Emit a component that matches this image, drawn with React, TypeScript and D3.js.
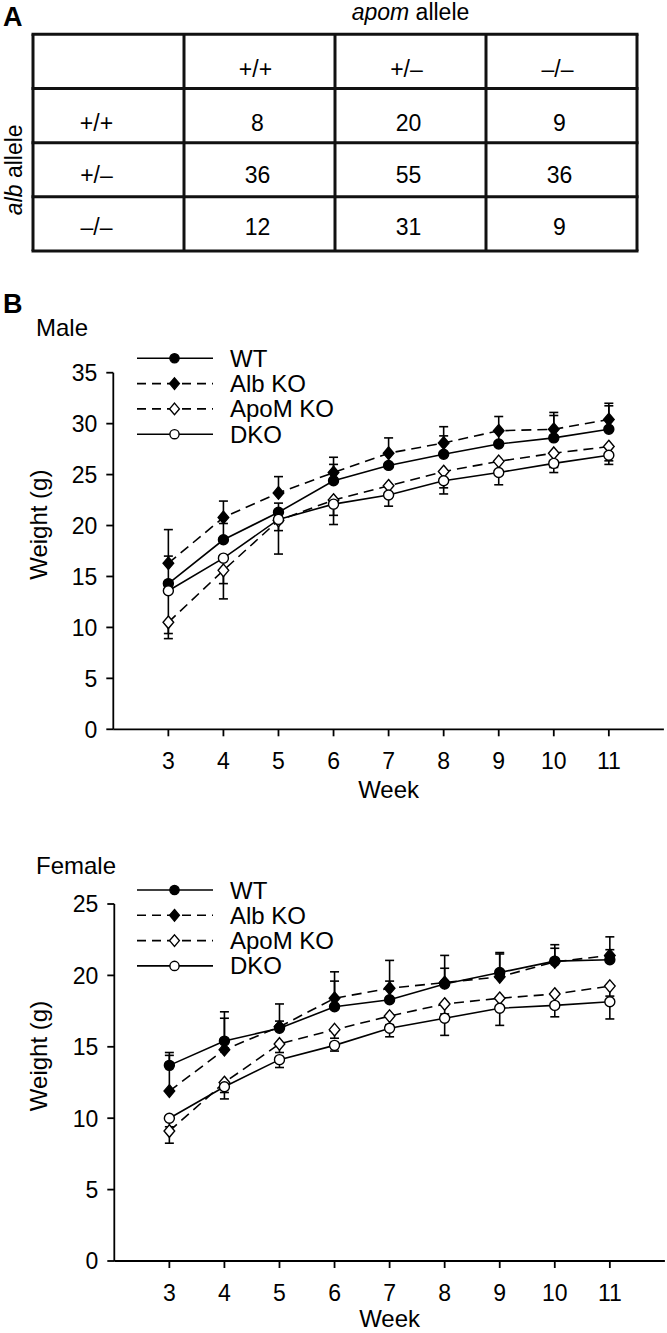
import React from "react";
import * as d3 from "d3";

// ---------- DATA ----------
const apomGenotypes = ["+/+", "+/\u2013", "\u2013/\u2013"];
const albGenotypes = ["+/+", "+/\u2013", "\u2013/\u2013"];
const genotypeCounts = [
  [8, 20, 9],
  [36, 55, 36],
  [12, 31, 9],
];

const weeks = [3, 4, 5, 6, 7, 8, 9, 10, 11];
const seriesNames = ["WT", "Alb KO", "ApoM KO", "DKO"];

const maleWT = [14.3, 18.6, 21.3, 24.4, 25.9, 27.0, 28.0, 28.6, 29.45];
const maleAlbKO = [16.3, 20.8, 23.2, 25.2, 27.1, 28.1, 29.3, 29.45, 30.4];
const maleApoMKO = [10.5, 15.6, 20.5, 22.5, 23.9, 25.3, 26.3, 27.1, 27.75];
const maleDKO = [13.6, 16.8, 20.6, 22.1, 23.0, 24.4, 25.2, 26.1, 26.9];
const maleWTsd = [2.7, 1.6, 0.9, 1.6, 1.2, 1.8, 1.2, 2.2, 2.3];
const maleAlbKOsd = [3.3, 1.6, 1.6, 1.5, 1.5, 1.6, 1.4, 1.65, 1.6];
const maleApoMKOsd = [1.1, 1.3, 1.0, 1.5, 0.9, 1.6, 1.0, 1.4, 1.4];
const maleDKOsd = [4.7, 4.0, 3.4, 2.0, 1.1, 1.3, 1.2, 0.9, 0.9];

const femaleWT = [13.7, 15.4, 16.3, 17.8, 18.3, 19.4, 20.2, 21.0, 21.1];
const femaleAlbKO = [11.9, 14.8, 16.4, 18.4, 19.1, 19.5, 19.9, 20.95, 21.4];
const femaleApoMKO = [9.1, 12.5, 15.2, 16.2, 17.15, 18.0, 18.4, 18.7, 19.25];
const femaleDKO = [10.0, 12.2, 14.1, 15.1, 16.3, 17.0, 17.7, 17.9, 18.15];
const femaleWTsd = [0.9, 2.05, 1.7, 1.8, 2.75, 2.0, 1.4, 0.9, 0.7];
const femaleAlbKOsd = [2.5, 2.2, 0.4, 1.85, 0.5, 1.0, 1.6, 1.2, 1.3];
const femaleApoMKOsd = [0.85, 0.7, 0.6, 0.6, 0.6, 0.7, 0.6, 0.7, 0.7];
const femaleDKOsd = [0.6, 0.85, 0.55, 0.4, 0.6, 1.2, 1.2, 0.8, 1.2];

const maleYTicks = [0, 5, 10, 15, 20, 25, 30, 35];
const femaleYTicks = [0, 5, 10, 15, 20, 25];

// ---------- STYLE ----------
const FONT = "'Liberation Sans', Arial, Helvetica, sans-serif";
const seriesStyle = [
  { marker: "circle", fill: "#000", dash: null, errDir: 1 },
  { marker: "diamond", fill: "#000", dash: "10,6", errDir: 1 },
  { marker: "diamond", fill: "#fff", dash: "10,6", errDir: -1 },
  { marker: "circle", fill: "#fff", dash: null, errDir: -1 },
];

function Marker({ type, x, y, fill, size }: any) {
  if (type === "circle") {
    return <circle cx={x} cy={y} r={size} fill={fill} stroke="#000" strokeWidth={1.4} />;
  }
  const s = size * 1.25;
  return (
    <path
      d={`M${x},${y - s}L${x + s * 0.85},${y}L${x},${y + s}L${x - s * 0.85},${y}Z`}
      fill={fill}
      stroke="#000"
      strokeWidth={1.4}
    />
  );
}

function Panel({ title, titleY, means, sds, yMax, yTicks, yTop, yBottom, xLeft, legendTop, weekY }: any) {
  const x = d3.scaleLinear().domain([2, 12]).range([xLeft, xLeft + 550.6]);
  const y = d3.scaleLinear().domain([0, yMax]).range([yBottom, yTop]);
  const line = d3
    .line<number>()
    .x((_, i) => x(weeks[i]))
    .y((d) => y(d));
  const legendY = d3.scaleLinear().domain([0, 1]).range([legendTop, legendTop + 25.3]);
  const labelMid = yTop + 152;
  return (
    <g>
      <text x={36} y={titleY} fontSize={24} fontFamily={FONT}>
        {title}
      </text>
      {/* axes */}
      <line x1={xLeft} x2={xLeft} y1={yTop} y2={yBottom} stroke="#000" strokeWidth={1.8} />
      <line x1={xLeft} x2={x(12)} y1={yBottom} y2={yBottom} stroke="#000" strokeWidth={1.8} />
      {yTicks.map((t: number) => (
        <g key={"y" + t}>
          <line x1={xLeft - 7} x2={xLeft} y1={y(t)} y2={y(t)} stroke="#000" strokeWidth={1.8} />
          <text x={xLeft - 16} y={y(t) + 8.3} fontSize={23} textAnchor="end" fontFamily={FONT}>
            {t}
          </text>
        </g>
      ))}
      {weeks.map((w) => (
        <g key={"x" + w}>
          <line x1={x(w)} x2={x(w)} y1={yBottom} y2={yBottom + 7} stroke="#000" strokeWidth={1.8} />
          <text x={x(w)} y={yBottom + 40} fontSize={23} textAnchor="middle" fontFamily={FONT}>
            {w}
          </text>
        </g>
      ))}
      <text x={(xLeft + x(12)) / 2} y={weekY} fontSize={24} textAnchor="middle" fontFamily={FONT}>
        Week
      </text>
      <text
        transform={`translate(47,${labelMid}) rotate(-90)`}
        fontSize={24}
        textAnchor="middle"
        fontFamily={FONT}
      >
        Weight (g)
      </text>
      {/* error bars */}
      {means.map((m: number[], si: number) =>
        m.map((v, i) => {
          const end = v + seriesStyle[si].errDir * sds[si][i];
          return (
            <g key={`e${si}-${i}`}>
              <line x1={x(weeks[i])} x2={x(weeks[i])} y1={y(v)} y2={y(end)} stroke="#000" strokeWidth={1.6} />
              <line x1={x(weeks[i]) - 4.5} x2={x(weeks[i]) + 4.5} y1={y(end)} y2={y(end)} stroke="#000" strokeWidth={1.6} />
            </g>
          );
        })
      )}
      {/* lines */}
      {means.map((m: number[], si: number) => (
        <path
          key={"l" + si}
          d={line(m) || ""}
          fill="none"
          stroke="#000"
          strokeWidth={1.6}
          strokeDasharray={seriesStyle[si].dash || undefined}
        />
      ))}
      {/* markers */}
      {means.map((m: number[], si: number) =>
        m.map((v, i) => (
          <Marker
            key={`m${si}-${i}`}
            type={seriesStyle[si].marker}
            x={x(weeks[i])}
            y={y(v)}
            fill={seriesStyle[si].fill}
            size={5}
          />
        ))
      )}
      {/* legend */}
      {seriesNames.map((name, si) => (
        <g key={"lg" + si}>
          <line
            x1={137}
            x2={213}
            y1={legendY(si)}
            y2={legendY(si)}
            stroke="#000"
            strokeWidth={1.6}
            strokeDasharray={seriesStyle[si].dash ? "9,6" : undefined}
          />
          <Marker type={seriesStyle[si].marker} x={174.5} y={legendY(si)} fill={seriesStyle[si].fill} size={4.6} />
          <text x={230} y={legendY(si) + 8.5} fontSize={24} fontFamily={FONT}>
            {name}
          </text>
        </g>
      ))}
    </g>
  );
}

function GenotypeTable() {
  const col = d3.scaleBand<number>().domain([0, 1, 2, 3]).range([33, 637]);
  const row = d3.scaleBand<number>().domain([0, 1, 2, 3]).range([34.3, 251]);
  const cw = col.bandwidth();
  const rh = row.bandwidth();
  const baseOff = [42.5, 43, 40, 38.5];
  return (
    <g fontFamily={FONT}>
      <text x={3} y={26} fontSize={27} fontWeight="bold" fontFamily={FONT}>
        A
      </text>
      <text x={(col(1)! + 637) / 2} y={20} fontSize={23} textAnchor="middle">
        <tspan fontStyle="italic">apom</tspan> allele
      </text>
      <text transform={`translate(21.5,${(row(1)! + 251) / 2}) rotate(-90)`} fontSize={23} textAnchor="middle">
        <tspan fontStyle="italic">alb</tspan> allele
      </text>
      {apomGenotypes.map((g, j) => (
        <text key={"h" + j} x={col(j + 1)! + cw / 2 - 4} y={row(0)! + baseOff[0]} fontSize={23} textAnchor="middle">
          {g}
        </text>
      ))}
      {albGenotypes.map((g, i) => (
        <text key={"r" + i} x={col(0)! + cw / 2 - 12} y={row(i + 1)! + baseOff[i + 1]} fontSize={23} textAnchor="middle">
          {g}
        </text>
      ))}
      {genotypeCounts.map((r, i) =>
        r.map((v, j) => (
          <text key={`c${i}-${j}`} x={col(j + 1)! + cw / 2 - 2} y={row(i + 1)! + baseOff[i + 1]} fontSize={23} textAnchor="middle">
            {v}
          </text>
        ))
      )}
      {[0, 1, 2, 3, 4].map((k) => (
        <line key={"v" + k} x1={33 + k * cw} x2={33 + k * cw} y1={34.3} y2={251} stroke="#111" strokeWidth={3} />
      ))}
      {[0, 1, 2, 3, 4].map((k) => (
        <line key={"hl" + k} x1={31.5} x2={638.5} y1={34.3 + k * rh} y2={34.3 + k * rh} stroke="#111" strokeWidth={3} />
      ))}
    </g>
  );
}

export default function App() {
  return (
    <svg
      width={667}
      height={1333}
      style={{ position: "absolute", left: 0, top: 0, background: "#fff" }}
    >
      <rect width={667} height={1333} fill="#fff" />
      <GenotypeTable />
      <text x={3} y={313} fontSize={27} fontWeight="bold" fontFamily={FONT}>
        B
      </text>
      <Panel
        title="Male"
        titleY={336}
        means={[maleWT, maleAlbKO, maleApoMKO, maleDKO]}
        sds={[maleWTsd, maleAlbKOsd, maleApoMKOsd, maleDKOsd]}
        yMax={35}
        yTicks={maleYTicks}
        yTop={372.7}
        yBottom={729.3}
        xLeft={113.3}
        legendTop={358.3}
        weekY={798}
      />
      <Panel
        title="Female"
        titleY={874}
        means={[femaleWT, femaleAlbKO, femaleApoMKO, femaleDKO]}
        sds={[femaleWTsd, femaleAlbKOsd, femaleApoMKOsd, femaleDKOsd]}
        yMax={25}
        yTicks={femaleYTicks}
        yTop={904}
        yBottom={1261}
        xLeft={114.3}
        legendTop={890}
        weekY={1327}
      />
    </svg>
  );
}
